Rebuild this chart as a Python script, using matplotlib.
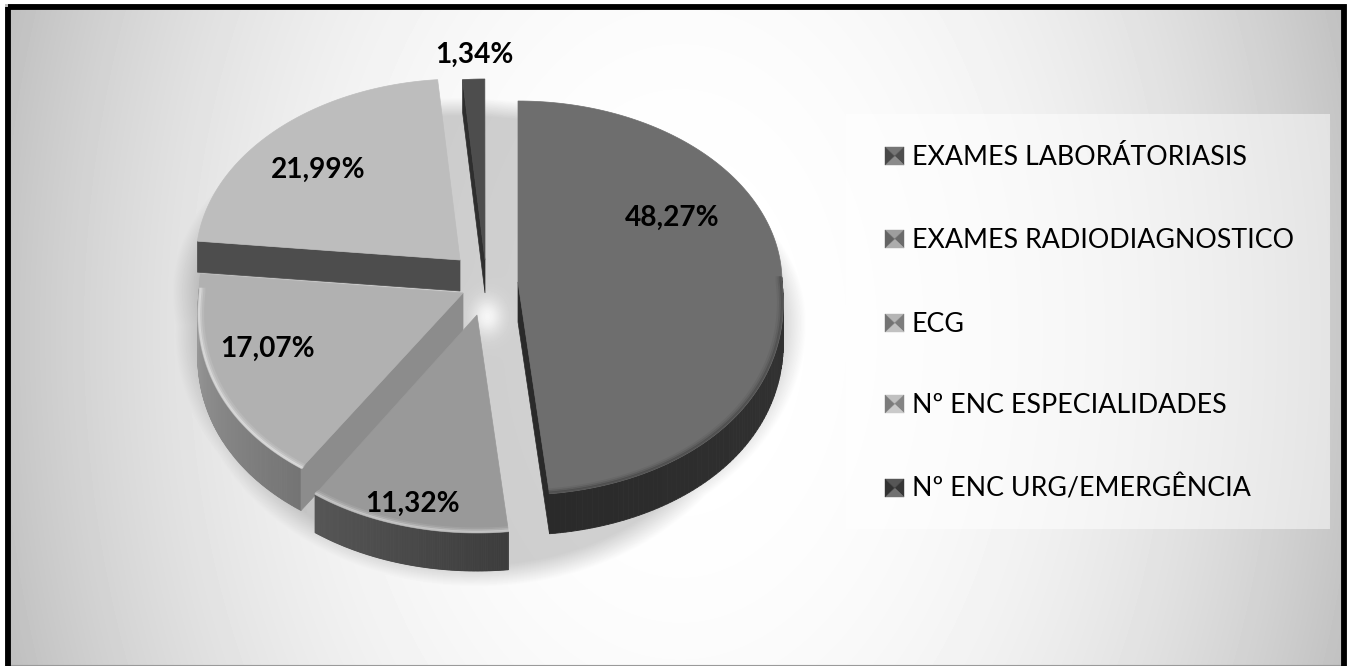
import numpy as np
import matplotlib
matplotlib.use("Agg")
import matplotlib.pyplot as plt
from matplotlib.patches import Rectangle, Polygon

W, H = 1348, 666

# data
categories = ["EXAMES LABORÁTORIASIS", "EXAMES RADIODIAGNOSTICO", "ECG",
              "Nº ENC ESPECIALIDADES", "Nº ENC URG/EMERGÊNCIA"]
values = [48.27, 11.32, 17.07, 21.99, 1.34]

# where each exploded slice sits, and its look
apex_x = [518, 477, 463, 460, 485]
apex_y = [282, 315, 293, 260, 260]
depth = [40, 38, 42, 31, 33]
ry_front = [213, 218, 213, 213, 213]
top_colors = ["#6e6e6e", "#999999", "#b1b1b1", "#bdbdbd", "#4d4d4d"]
wall_from = ["#333333", "#3c3c3c", "#747474", "#4d4d4d", "#2e2e2e"]
wall_to = ["#2a2a2a", "#565656", "#9c9c9c", "#4d4d4d", "#2e2e2e"]
cut_colors = ["#2a2a2a", None, "#8c8c8c", "#4d4d4d", "#2e2e2e"]
cut_edge = ["end", None, "start", "start", "start"]
rim_colors = ["#3d3d3d", "#e0e0e0", "#f4f4f4", None, None]
draw_order = [3, 4, 2, 1, 0]

label_x = [672, 413, 268, 318, 474]
label_y = [218, 504, 349, 170, 55]
legend_y = [156, 239, 323, 404, 488]

RX, RY_BACK = 264, 181


def rim(i, theta, scale=1.0):
    # tilted circle: the near half looks taller and wider than the far half
    s = np.sin(theta)
    ry = np.where(s > 0, RY_BACK, ry_front[i])
    spread = 1 + 0.1 * np.clip(-s, 0, 1)
    return apex_x[i] + scale * RX * np.cos(theta) * spread, apex_y[i] - scale * ry * s


def mix(c1, c2, t):
    a, b = np.array(matplotlib.colors.to_rgb(c1)), np.array(matplotlib.colors.to_rgb(c2))
    return tuple(a + (b - a) * t)


def background():
    yy, xx = np.mgrid[0:H, 0:W]
    d = np.hypot((xx - 680) / 680, (yy - 333) / 1000)
    img = 1 - 0.23 * d ** 2.4

    # soft shadow: the union of the slices' circles, one depth lower
    e = np.full(img.shape, 9.0)
    for i in range(len(values)):
        dy = yy - apex_y[i] - depth[i]
        ry = np.where(dy < 0, RY_BACK, ry_front[i])
        e = np.minimum(e, np.hypot((xx - apex_x[i]) / (RX * 1.02), dy / ry))
    img = img * (0.82 + 0.18 * np.clip((e - 0.97) / 0.1, 0, 1))

    # small glow where the slices meet
    glow = 0.8 * np.exp(-(((xx - 487) / 15) ** 2 + ((yy - 316) / 18) ** 2))
    img = img + (1 - img) * glow
    return np.clip(img, 0, 1)


fig = plt.figure(figsize=(W / 100, H / 100), dpi=100, facecolor="white")
ax = fig.add_axes([0, 0, 1, 1])
ax.imshow(background()[4:, 5:1346], cmap="gray", vmin=0, vmax=1, aspect="auto",
          extent=(5, 1346, H, 4), interpolation="bilinear", zorder=0)
ax.set_xlim(0, W)
ax.set_ylim(H, 0)
ax.axis("off")

# slice angles, clockwise from 12 o'clock
sweeps = np.radians(np.array(values) * 3.6)
starts = np.pi / 2 - np.concatenate(([0], np.cumsum(sweeps)[:-1]))

z = 2
for i in draw_order:
    t0, t1 = starts[i], starts[i] - sweeps[i]
    theta = np.linspace(t0, t1, 160)
    x, y = rim(i, theta)

    # outer wall, only the part facing us
    front = np.sin(theta) < 0.03
    fx, fy = x[front], y[front]
    for k in range(len(fx) - 1):
        col = mix(wall_from[i], wall_to[i], k / max(len(fx) - 2, 1))
        ax.fill([fx[k], fx[k + 1], fx[k + 1], fx[k]],
                [fy[k], fy[k + 1], fy[k + 1] + depth[i], fy[k] + depth[i]],
                color=col, lw=0.6, zorder=z)

    # cut face
    if cut_edge[i]:
        ex, ey = rim(i, t0 if cut_edge[i] == "start" else t1)
        ex, ey = float(ex), float(ey)
        ax.add_patch(Polygon([(apex_x[i], apex_y[i]), (ex, ey), (ex, ey + depth[i]),
                              (apex_x[i], apex_y[i] + depth[i])],
                             fc=cut_colors[i], ec=cut_colors[i], lw=0.5, zorder=z))

    # top face
    ax.fill(np.r_[apex_x[i], x], np.r_[apex_y[i], y], color=top_colors[i], lw=0.5, zorder=z + 1)

    # bevel along the rim
    if rim_colors[i]:
        for scale, alpha in [(0.995, 0.55), (0.988, 0.3), (0.98, 0.12)]:
            rx_, ry_ = rim(i, theta[front], scale)
            ax.plot(rx_, ry_, color=rim_colors[i], lw=1.6, alpha=alpha, zorder=z + 2)
    z += 3

# data labels
for i, v in enumerate(values):
    ax.text(label_x[i], label_y[i], f"{v:.2f}%".replace(".", ","), family="Lato", weight="bold",
            fontsize=20.2, ha="center", va="center", color="black", zorder=40)

# legend
ax.add_patch(Rectangle((846, 114), 484, 415, fc="white", ec="none", alpha=0.5, zorder=30))
for i, name in enumerate(categories):
    cy = legend_y[i]
    x0, x1, y0, y1 = 885, 904, cy - 9, cy + 9
    mx, my = (x0 + x1) / 2, (y0 + y1) / 2
    base = top_colors[i]
    faces = [([(x0, y0), (x1, y0), (mx, my)], mix(base, "white", 0.05)),
             ([(x1, y0), (x1, y1), (mx, my)], mix(base, "black", 0.3)),
             ([(x1, y1), (x0, y1), (mx, my)], mix(base, "white", 0.2)),
             ([(x0, y1), (x0, y0), (mx, my)], mix(base, "black", 0.35))]
    for pts, col in faces:
        ax.add_patch(Polygon(pts, fc=col, ec=col, lw=0.3, zorder=31))
    ax.text(912, cy + 9, name, family="Lato", fontsize=19.3, ha="left", va="baseline",
            color="black", zorder=32)

# frame
ax.add_patch(Rectangle((7.5, 7), 1336, 680, fill=False, ec="black", lw=4.2,
                       joinstyle="miter", clip_on=True, zorder=50))
ax.plot([10, 1341], [665, 665], color="#9a9a9a", lw=0.8, zorder=49)

fig.savefig("out.png", dpi=100)
